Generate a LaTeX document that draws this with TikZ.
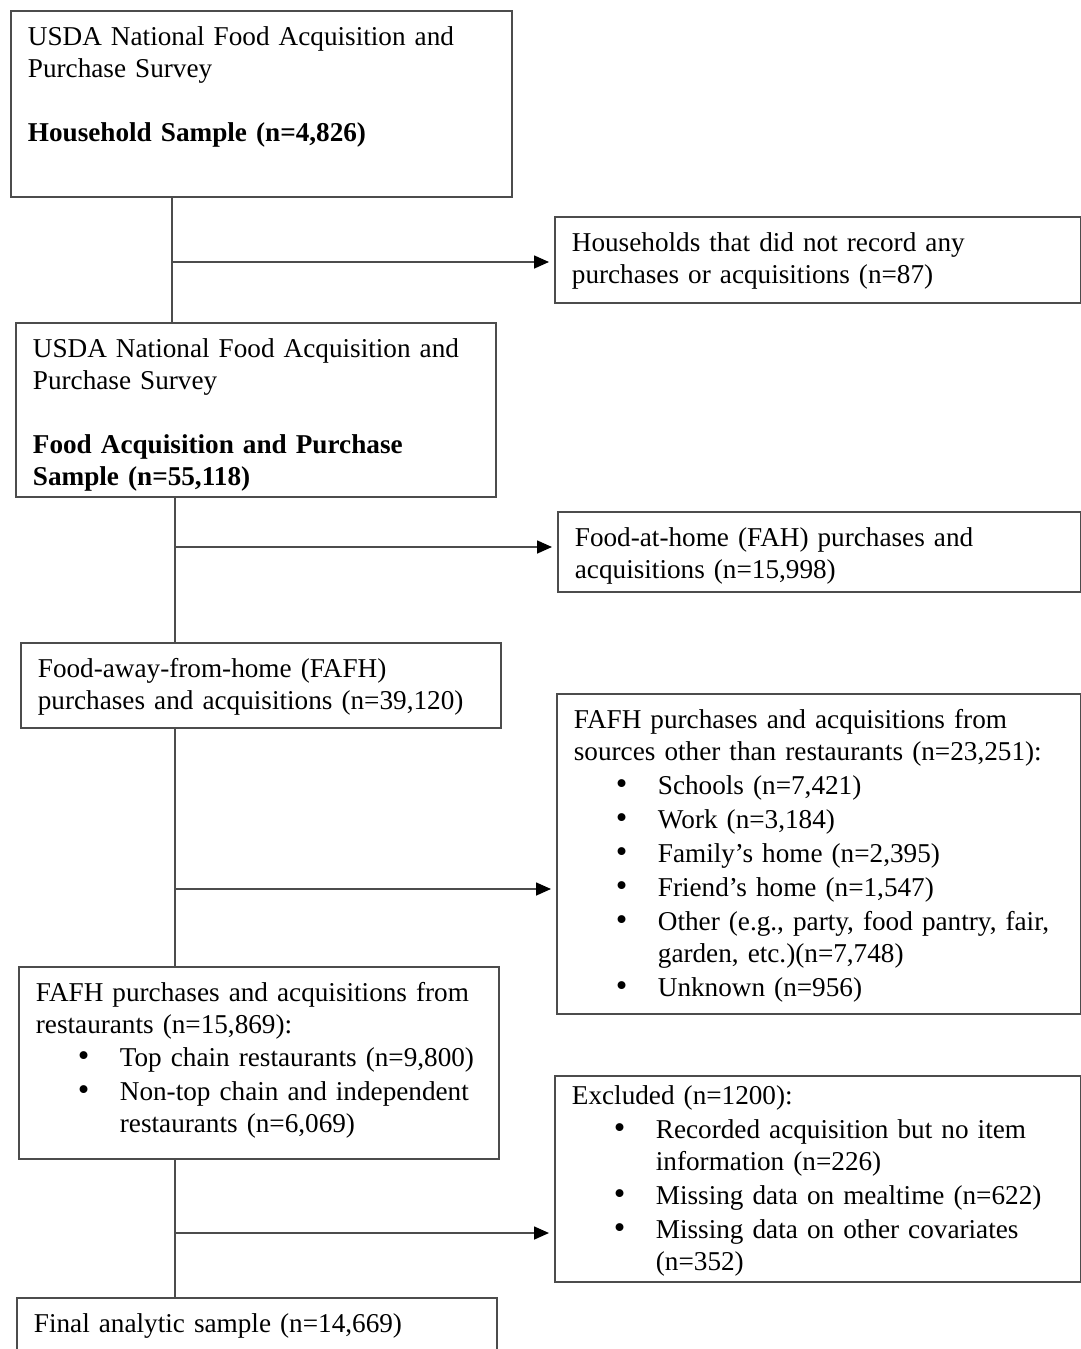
\documentclass[tikz,border=0pt]{standalone}
\usepackage{fontspec}
\setmainfont{Liberation Serif}
\usetikzlibrary{arrows.meta}
\tikzset{
  box/.style={draw=black!70, line width=0.9pt, anchor=north west, align=left,
    inner xsep=8.5pt, inner ysep=0pt, text height=17.5pt,
    font=\fontsize{13.6pt}{16pt}\selectfont},
  flow/.style={draw=black!70, line width=0.8pt},
  arr/.style={flow, -{Triangle[length=7.5pt,width=6.5pt,black]}, shorten >=2.5pt}
}
\newcommand{\itm}[1]{\hspace*{21pt}\makebox[21pt][l]{\fontsize{16.5pt}{16pt}\selectfont\textbullet}#1}
\newcommand{\cont}[1]{\hspace*{42pt}#1}

\begin{document}
\begin{tikzpicture}[x=0.5pt,y=-0.5pt]
\useasboundingbox (0,0) rectangle (1081,1349);
\node[box, text width=233.5pt, text depth=75.5pt] (household) at (10,10)
  {USDA National Food Acquisition and\\Purchase Survey\\[16pt]\textbf{Household Sample (n=4,826)}};
\node[box, text width=246pt, text depth=25.5pt] (noRecord) at (554,216)
  {Households that did not record any\\purchases or acquisitions (n=87)};
\node[box, text width=223pt, text depth=69.5pt] (faps) at (15,322)
  {USDA National Food Acquisition and\\Purchase Survey\\[16pt]\textbf{Food Acquisition and Purchase}\\\textbf{Sample (n=55,118)}};
\node[box, text width=244.5pt, text depth=22.5pt] (fah) at (557,511)
  {Food-at-home (FAH) purchases and\\acquisitions (n=15,998)};
\node[box, text width=223pt, text depth=25pt] (fafh) at (20,642)
  {Food-away-from-home (FAFH)\\purchases and acquisitions (n=39,120)};
\node[box, text width=245pt, text depth=142.5pt] (other) at (556,693)
  {FAFH purchases and acquisitions from\\
   sources other than restaurants (n=23,251):\\[1pt]
   \itm{Schools (n=7,421)}\\[1pt]
   \itm{Work (n=3,184)}\\[1pt]
   \itm{Family's home (n=2,395)}\\[1pt]
   \itm{Friend's home (n=1,547)}\\[1pt]
   \itm{Other (e.g., party, food pantry, fair,}\\
   \cont{garden, etc.)(n=7,748)}\\[1pt]
   \itm{Unknown (n=956)}};
\node[box, text width=223pt, text depth=78.5pt] (restaurants) at (18,966)
  {FAFH purchases and acquisitions from\\
   restaurants (n=15,869):\\[0.5pt]
   \itm{Top chain restaurants (n=9,800)}\\[1pt]
   \itm{Non-top chain and independent}\\
   \cont{restaurants (n=6,069)}};
\node[box, text width=246pt, text height=14.5pt, text depth=88.5pt] (excluded) at (554,1075)
  {Excluded (n=1200):\\[1pt]
   \itm{Recorded acquisition but no item}\\
   \cont{information (n=226)}\\[1pt]
   \itm{Missing data on mealtime (n=622)}\\[1pt]
   \itm{Missing data on other covariates}\\
   \cont{(n=352)}};
\node[box, text width=223pt, text depth=22.5pt] (final) at (16,1297)
  {Final analytic sample (n=14,669)};

\coordinate (j1) at (172,262);
\coordinate (j2) at (175,547);
\coordinate (j3) at (175,889);
\coordinate (j4) at (175,1233);
\draw[flow] (household.south -| j1) -- (faps.north -| j1);
\draw[arr] (j1) -- (noRecord.west |- j1);
\draw[flow] (faps.south -| j2) -- (fafh.north -| j2);
\draw[arr] (j2) -- (fah.west |- j2);
\draw[flow] (fafh.south -| j3) -- (restaurants.north -| j3);
\draw[arr] (j3) -- (other.west |- j3);
\draw[flow] (restaurants.south -| j4) -- (final.north -| j4);
\draw[arr] (j4) -- (excluded.west |- j4);
\end{tikzpicture}
\end{document}
